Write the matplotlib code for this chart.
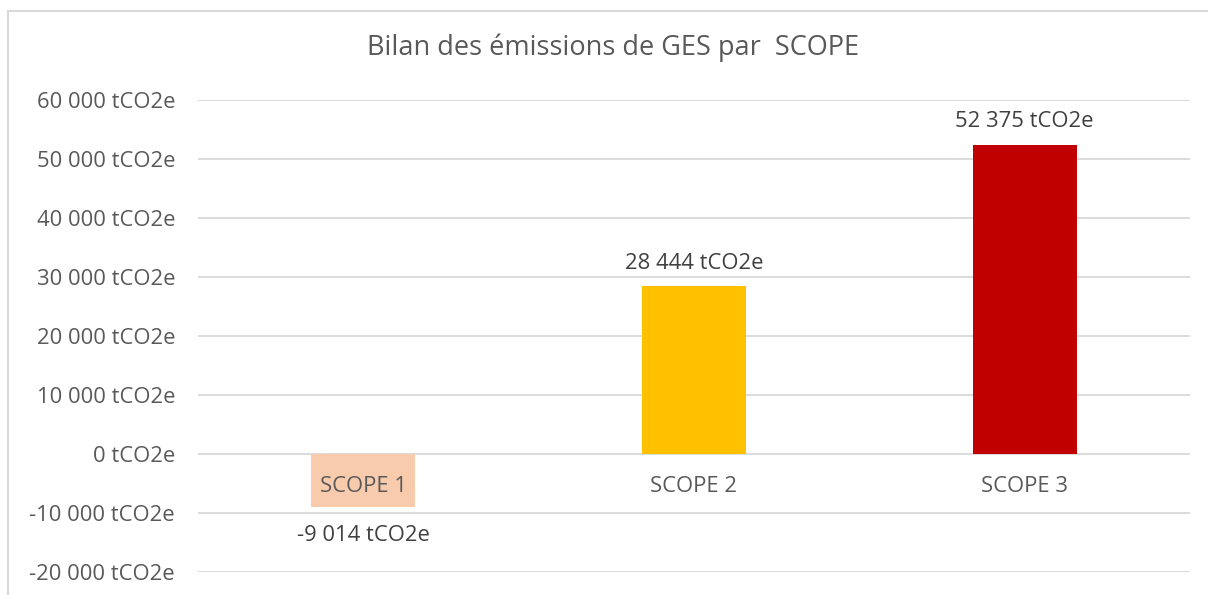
import matplotlib
matplotlib.use("Agg")
import matplotlib.pyplot as plt
from matplotlib.patches import Rectangle
from matplotlib.ticker import FixedLocator, FuncFormatter

categories = ["SCOPE 1", "SCOPE 2", "SCOPE 3"]
values = [-9014, 28444, 52375]
colors = ["#F8CBAD", "#FFC000", "#C00000"]
yticks = [-20000, -10000, 0, 10000, 20000, 30000, 40000, 50000, 60000]
title = "Bilan des émissions de GES par  SCOPE"

plt.rcParams['font.family'] = ['Open Sans', 'DejaVu Sans']

def fmt(v):
    s = f"{abs(int(v)):,}".replace(",", " ")
    return ("-" if v < 0 else "") + s + " tCO2e"

W, H = 1208, 595
FS = 15.8
fig = plt.figure(figsize=(W / 100, H / 100), dpi=100)
fig.patch.set_facecolor("white")

# chart border
fig.patches.append(Rectangle((8 / W, -0.1), 1.2, 1 - 11 / H + 0.1,
                             transform=fig.transFigure, fill=False,
                             edgecolor="#d9d9d9", linewidth=1.5))

ax = fig.add_axes([198 / W, 1 - 572 / H, (1190 - 198) / W, (572 - 100) / H])
ax.set_facecolor("none")
x = list(range(len(categories)))
ax.bar(x, values, width=0.314, color=colors, zorder=3)
ax.set_xlim(-0.5, len(categories) - 0.5)
ax.set_ylim(yticks[0], yticks[-1])
ax.yaxis.set_major_locator(FixedLocator(yticks))
ax.yaxis.set_major_formatter(FuncFormatter(lambda v, p: fmt(v)))
ax.grid(axis="y", color="#d9d9d9", linewidth=1.3, zorder=0)
ax.set_axisbelow(True)
for s in ["top", "right", "left", "bottom"]:
    ax.spines[s].set_visible(False)
ax.set_xticks([])
ax.tick_params(axis="y", length=0, pad=16.5, labelsize=FS, labelcolor="#595959")

for xi, c in zip(x, categories):
    ax.annotate(c, (xi, 0), xytext=(0, -33), textcoords="offset pixels",
                ha="center", va="center", fontsize=FS, color="#595959", zorder=5)

for xi, v in zip(x, values):
    off = 23 if v >= 0 else -28
    ax.annotate(fmt(v), (xi, v), xytext=(0, off), textcoords="offset pixels",
                ha="center", va="center", fontsize=FS, color="#404040", zorder=5)

fig.text(613 / W, 1 - 48 / H, title, ha="center", va="center",
         fontsize=19.5, color="#595959")

fig.savefig("out.png", dpi=100)
